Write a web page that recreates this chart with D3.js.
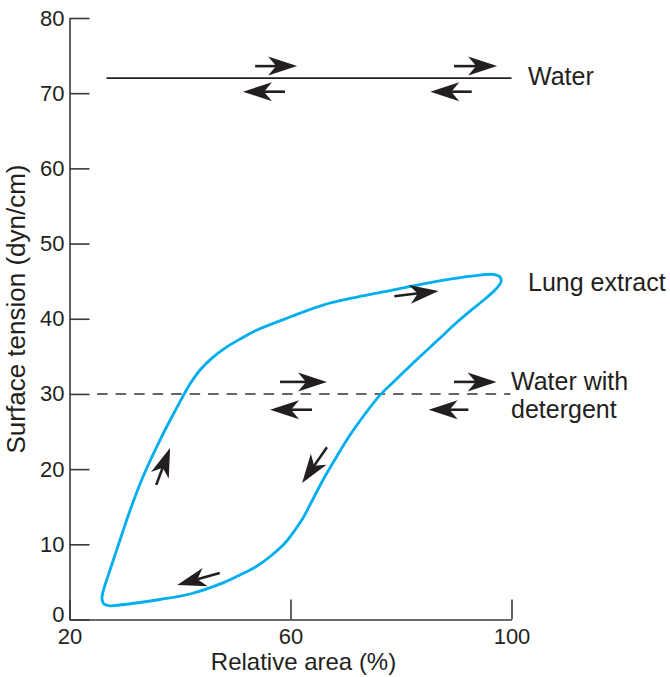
<!DOCTYPE html>
<html>
<head>
<meta charset="utf-8">
<script src="https://cdn.jsdelivr.net/npm/d3@7"></script>
<style>
  html, body { margin: 0; padding: 0; background: #fff; }
  svg { display: block; }
  text { font-family: "Liberation Sans", Arial, sans-serif; fill: #231f20; }
</style>
</head>
<body>
<svg id="chart" width="670" height="677"></svg>
<script>
// ---------- data ----------
const xTicks = [20, 60, 100];
const yTicks = [0, 10, 20, 30, 40, 50, 60, 70, 80];

// Water: constant surface tension
const waterTension = 72;
const waterArea = [26.7, 100];
// Water with detergent
const detergentTension = 30;
const detergentArea = [25, 99.8];

// Lung extract hysteresis loop (relative area %, surface tension dyn/cm), traced in order
const lungArea = [26.06, 27.33, 29.14, 31.31, 33.67, 36.38, 39.10, 41.81, 43.62, 45.79, 48.14, 50.86, 53.94, 59.91, 65.88, 72.04, 78.01, 83.44, 88.87, 94.30, 96.65, 97.92, 98.10, 97.01, 95.20, 92.49, 89.77, 87.06, 84.34, 81.63, 78.91, 76.20, 73.48, 70.77, 68.42, 65.88, 63.89, 62.26, 60.81, 59.00, 56.65, 53.94, 50.86, 47.78, 41.81, 36.38, 32.76, 29.14, 27.33, 26.24, 25.88];
const lungTension = [3.66, 6.58, 10.57, 15.23, 19.61, 23.87, 27.73, 31.32, 33.18, 34.77, 36.10, 37.30, 38.50, 40.23, 41.82, 42.89, 43.75, 44.55, 45.28, 45.81, 45.90, 45.55, 44.88, 43.82, 42.62, 41.02, 39.30, 37.43, 35.57, 33.71, 31.78, 29.85, 27.33, 24.53, 21.74, 18.55, 15.76, 13.50, 11.90, 10.17, 8.58, 7.11, 5.92, 4.87, 3.39, 2.66, 2.26, 1.93, 1.82, 2.06, 2.73];

// Direction arrows: [tailArea, tailTension, tipArea, tipTension]
const waterArrows = [
  [53.6, 73.6, 61.2, 73.6],
  [89.6, 73.6, 97.4, 73.6],
  [59.0, 70.2, 51.4, 70.2],
  [92.8, 70.2, 85.3, 70.2]
];
const detergentArrows = [
  [58.1, 31.6, 66.6, 31.6],
  [89.6, 31.6, 97.3, 31.6],
  [63.9, 27.9, 56.3, 27.9],
  [92.2, 27.9, 85.0, 27.9]
];
const lungArrows = [
  [78.8, 43.0, 86.8, 43.7],
  [66.6, 22.9, 62.1, 18.15],
  [47.2, 6.2, 39.5, 4.6],
  [35.7, 17.9, 38.2, 22.8]
];

const labels = [
  { text: "Water", x: 528, y: 85 },
  { text: "Lung extract", x: 528, y: 291 },
  { text: "Water with", x: 511, y: 390 },
  { text: "detergent", x: 511, y: 418 }
];

// ---------- drawing ----------
const svg = d3.select("#chart");
const x = d3.scaleLinear().domain([20, 100]).range([69.5, 511.5]);
const y = d3.scaleLinear().domain([0, 80]).range([619.5, 18]);

const ink = "#231f20";

// Y axis
const yAxis = d3.axisLeft(y).tickValues(yTicks).tickSizeInner(-20).tickSizeOuter(0).tickPadding(5);
const gy = svg.append("g").attr("transform", `translate(${x(20)},0)`).call(yAxis);
gy.selectAll("path, line").attr("stroke", "#3a3a3a").attr("stroke-width", 1.6);
gy.selectAll("text").style("font-size", "22px").attr("fill", ink)
  .style("font-family", '"Liberation Sans", Arial, sans-serif');
gy.selectAll(".tick").filter(d => d === 0).select("text").attr("y", -5);

// X axis
const xAxis = d3.axisBottom(x).tickValues(xTicks).tickSizeInner(-20).tickSizeOuter(0).tickPadding(8.5);
const gx = svg.append("g").attr("transform", `translate(0,${y(0)})`).call(xAxis);
gx.selectAll("path, line").attr("stroke", "#3a3a3a").attr("stroke-width", 1.6);
gx.selectAll("text").style("font-size", "22px").attr("fill", ink)
  .style("font-family", '"Liberation Sans", Arial, sans-serif');

// Axis titles
svg.append("text")
  .attr("x", 303.5).attr("y", 670)
  .attr("text-anchor", "middle")
  .style("font-size", "24px")
  .text("Relative area (%)");
svg.append("text")
  .attr("transform", `translate(25,309) rotate(-90)`)
  .attr("text-anchor", "middle")
  .style("font-size", "26px")
  .text("Surface tension (dyn/cm)");

// Water line
svg.append("line")
  .attr("x1", x(waterArea[0])).attr("x2", x(waterArea[1]))
  .attr("y1", y(waterTension)).attr("y2", y(waterTension))
  .attr("stroke", ink).attr("stroke-width", 1.6);

// Detergent dashed line
svg.append("line")
  .attr("x1", x(detergentArea[0])).attr("x2", x(detergentArea[1]))
  .attr("y1", y(detergentTension)).attr("y2", y(detergentTension))
  .attr("stroke", "#333").attr("stroke-width", 1.5)
  .attr("stroke-dasharray", "10.5,8");

// Lung extract loop
const lungPts = lungArea.map((a, i) => [a, lungTension[i]]);
const line = d3.line().x(d => x(d[0])).y(d => y(d[1])).curve(d3.curveCatmullRomClosed.alpha(0.5));
svg.append("path")
  .attr("d", line(lungPts))
  .attr("fill", "none")
  .attr("stroke", "#00aeef")
  .attr("stroke-width", 2.8)
  .attr("stroke-linejoin", "round");

// Arrows
function drawArrow(a) {
  const x1 = x(a[0]), y1 = y(a[1]), x2 = x(a[2]), y2 = y(a[3]);
  const ang = Math.atan2(y2 - y1, x2 - x1);
  const L = 29, W = 9.5, N = 8;
  const len = Math.hypot(x2 - x1, y2 - y1);
  const g = svg.append("g").attr("transform", `translate(${x2},${y2}) rotate(${ang * 180 / Math.PI})`);
  g.append("line").attr("x1", -len).attr("x2", -L + N + 1).attr("y1", 0).attr("y2", 0)
    .attr("stroke", ink).attr("stroke-width", 2.6);
  g.append("path")
    .attr("d", `M0,0 L${-L},${-W} L${-L + N},0 L${-L},${W} Z`)
    .attr("fill", ink);
}
waterArrows.forEach(drawArrow);
detergentArrows.forEach(drawArrow);
lungArrows.forEach(drawArrow);

// Labels
svg.selectAll("text.lbl").data(labels).enter().append("text")
  .attr("class", "lbl")
  .attr("x", d => d.x).attr("y", d => d.y)
  .style("font-size", "25px")
  .text(d => d.text);
</script>
</body>
</html>
